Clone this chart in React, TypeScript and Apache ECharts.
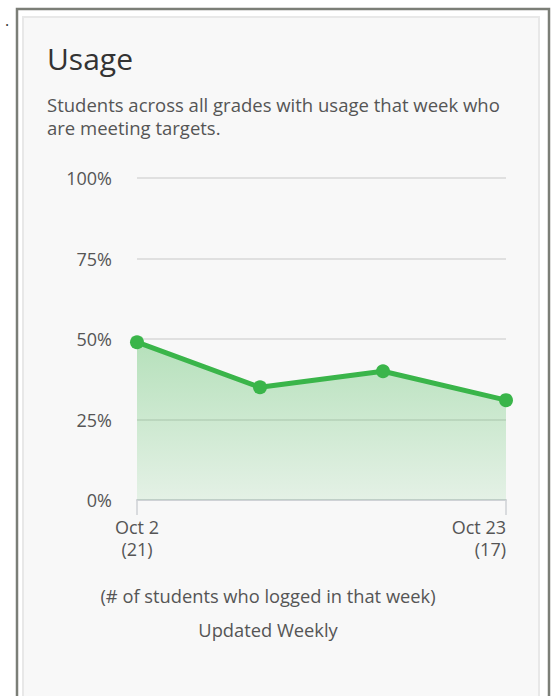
import React, { useEffect, useRef } from "react";
import * as echarts from "echarts";

const weeks = ["Oct 2", "Oct 9", "Oct 16", "Oct 23"];
const studentsLoggedIn: (number | null)[] = [21, null, null, 17];
const meetingTargetsPct = [49, 35, 40, 31];
const yTicks = [0, 25, 50, 75, 100];

const FONT = "'Open Sans', 'Noto Sans', sans-serif";

export default function App() {
  const ref = useRef<HTMLDivElement>(null);
  useEffect(() => {
    if (!ref.current) return;
    const chart = echarts.init(ref.current, undefined, { renderer: "svg" });
    const last = weeks.length - 1;
    const sub = (text: string, y: number) => ({
      type: "text",
      x: 47,
      y,
      style: { text, fontSize: 18.5, fontFamily: FONT, fill: "#555", verticalAlign: "middle" },
    });
    chart.setOption({
      animation: false,
      backgroundColor: "#ffffff",
      graphic: [
        {
          type: "rect",
          z: -10,
          shape: { x: 17, y: 9, width: 532, height: 720 },
          style: { fill: "#ffffff", stroke: "#7b7e77", lineWidth: 2.5 },
        },
        {
          type: "rect",
          z: -9,
          shape: { x: 23, y: 17, width: 516, height: 720 },
          style: { fill: "#f8f8f8", stroke: "#e8e8e8", lineWidth: 2 },
        },
        {
          type: "text",
          x: 5,
          y: 20,
          style: { text: ".", fontSize: 16, fontFamily: FONT, fill: "#333", verticalAlign: "middle" },
        },
        {
          type: "text",
          x: 47,
          y: 58,
          style: { text: "Usage", fontSize: 30, fontFamily: FONT, fill: "#333", verticalAlign: "middle" },
        },
        sub("Students across all grades with usage that week who", 104),
        sub("are meeting targets.", 127),
        {
          type: "text",
          x: 268,
          y: 612,
          style: {
            text: "(# of students who logged in that week)\nUpdated Weekly",
            fontSize: 18.3,
            lineHeight: 34,
            fontFamily: FONT,
            fill: "#555",
            align: "center",
            verticalAlign: "middle",
          },
        },
      ],
      grid: { left: 137, right: 46, top: 178, bottom: 196, containLabel: false },
      xAxis: {
        type: "category",
        data: weeks,
        boundaryGap: false,
        axisLine: { show: true, lineStyle: { color: "#cfd2d6", width: 2 } },
        axisTick: {
          show: true,
          length: 15,
          interval: (i: number) => i === 0 || i === last,
          lineStyle: { color: "#cfd2d6", width: 1.5 },
        },
        axisLabel: {
          interval: (i: number) => i === 0 || i === last,
          formatter: (v: string, i: number) => `${v}\n(${studentsLoggedIn[i] ?? ""})`,
          margin: 16,
          lineHeight: 22,
          fontSize: 18,
          fontFamily: FONT,
          color: "#555",
          alignMaxLabel: "right",
        },
        splitLine: { show: false },
      },
      yAxis: {
        type: "value",
        min: yTicks[0],
        max: yTicks[yTicks.length - 1],
        interval: 25,
        axisLine: { show: false },
        axisTick: { show: false },
        axisLabel: {
          formatter: "{value}%",
          margin: 25,
          fontSize: 18,
          fontFamily: FONT,
          color: "#555",
        },
        splitLine: { lineStyle: { color: "#d8d8d8", width: 1.5 } },
      },
      series: [
        {
          type: "line",
          data: meetingTargetsPct,
          symbol: "circle",
          symbolSize: 14,
          lineStyle: { color: "#3ab54a", width: 5 },
          itemStyle: { color: "#3ab54a" },
          areaStyle: {
            color: new echarts.graphic.LinearGradient(0, 0, 0, 1, [
              { offset: 0, color: "rgba(59,181,74,0.5)" },
              { offset: 1, color: "rgba(59,181,74,0.15)" },
            ]),
          },
        },
      ],
    });
    return () => chart.dispose();
  }, []);
  return (
    <div
      ref={ref}
      style={{ position: "absolute", left: 0, top: 0, width: 552, height: 696 }}
    />
  );
}
